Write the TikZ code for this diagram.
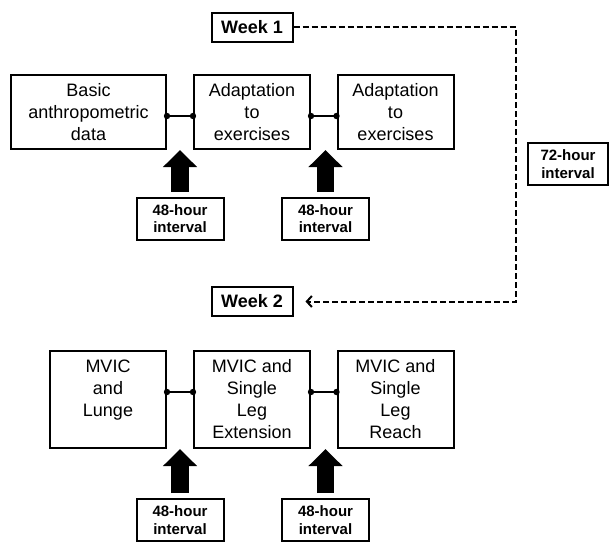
\documentclass[tikz,border=0pt]{standalone}
\usepackage{fontspec}
\setmainfont{Liberation Sans}
\usetikzlibrary{arrows.meta}
\begin{document}
\begin{tikzpicture}[x=1pt,y=-1pt,
   box/.style={draw,line width=2pt,align=center,inner sep=0pt,font=\fontsize{18}{22}\selectfont},
   interval/.style={draw,line width=2pt,align=center,inner sep=0pt,minimum width=87pt,minimum height=42pt,font=\fontsize{15}{17.5}\selectfont\bfseries},
   weekbox/.style={draw,line width=2pt,inner sep=0pt,minimum width=81pt,minimum height=29pt,font=\fontsize{18}{22}\selectfont\bfseries},
   bigarrow/.style={line width=17.5pt,-{Triangle[width=33pt,length=17pt]}},
   link/.style={line width=2pt}]
   \useasboundingbox (0,0) rectangle (610,543);
   \node [weekbox] (week1) at (252,27.5) {Week 1};
   \node [weekbox] (week2) at (252,301.5) {Week 2};
   \node [box,minimum width=155pt,minimum height=74pt] (basic) at (88.5,112) {Basic\\anthropometric\\data};
   \node [box,minimum width=116pt,minimum height=74pt] (adapt1) at (252,112) {Adaptation\\to\\exercises};
   \node [box,minimum width=116pt,minimum height=74pt] (adapt2) at (395.5,112) {Adaptation\\to\\exercises};
   \node [interval] (rest1) at (180,218.5) {48-hour\\interval};
   \node [interval] (rest2) at (325.5,218.5) {48-hour\\interval};
   \node [interval,minimum width=80pt] (rest3) at (568,164) {72-hour\\interval};
   \node [box,minimum width=116pt,minimum height=97pt] (lunge) at (108,399.5) {MVIC\\and\\Lunge\\\mbox{}};
   \node [box,minimum width=116pt,minimum height=97pt] (extension) at (252,399.5) {MVIC and\\Single\\Leg\\Extension};
   \node [box,minimum width=116pt,minimum height=97pt] (reach) at (395.5,399.5) {MVIC and\\Single\\Leg\\Reach};
   \node [interval] (rest4) at (180,520) {48-hour\\interval};
   \node [interval] (rest5) at (325.5,520) {48-hour\\interval};
   \coordinate (turn) at (516,164);
   \foreach \a/\b/\s in {basic/adapt1/-4,adapt1/adapt2/-4,lunge/extension/7.5,extension/reach/7.5}{
      \draw [link] ([yshift=\s pt]\a.east) -- ([yshift=\s pt]\b.west);
      \fill ([yshift=\s pt]\a.east) circle (3.2pt) ([yshift=\s pt]\b.west) circle (3.2pt);
   }
   \foreach \r/\t in {rest1/basic,rest2/adapt1,rest4/lunge,rest5/extension}
      \draw [bigarrow] ([yshift=5pt]\r.north) -- (\r.north |- \t.south);
   \draw [link,dash pattern=on 6pt off 3pt,-{Straight Barb[length=5pt,width=11pt]},shorten >=12pt] (week1.east) -| (turn) |- (week2.east);
\end{tikzpicture}
\end{document}
